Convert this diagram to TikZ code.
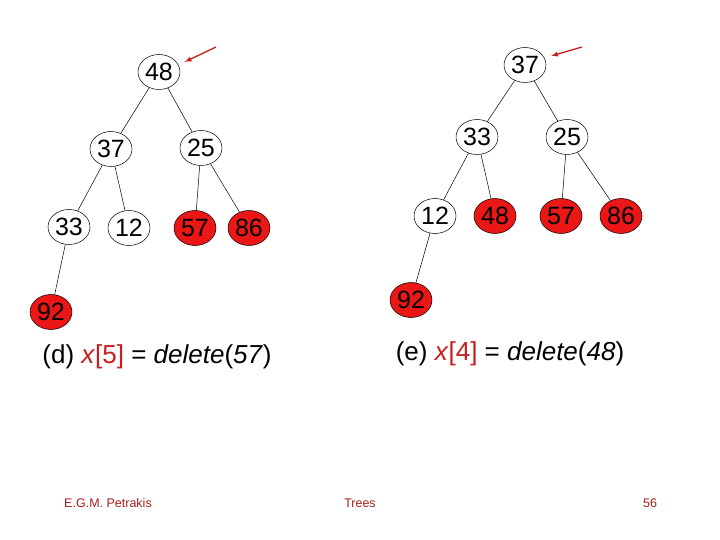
\documentclass[tikz,border=0pt]{standalone}
\usepackage{fontspec}
\setmainfont{Liberation Sans}
\usepackage{xcolor}
\usepackage{tikz}
\usetikzlibrary{shapes.geometric, arrows, positioning, calc}
\definecolor{heapred}{RGB}{235, 22, 22}
\definecolor{markred}{RGB}{200, 30, 30}
\definecolor{footred}{RGB}{170, 30, 30}

\tikzset{
    heapnode/.style={ellipse, draw=black, line width=0.5pt, fill=white,
                     minimum width=42pt, minimum height=35pt, inner sep=0pt,
                     font=\fontsize{25}{29}\selectfont},
    movednode/.style={heapnode, fill=heapred},
    heapedge/.style={draw=black, line width=0.5pt},
    pointer/.style={draw=markred, line width=1.3pt, -latex, shorten >=7pt},
    caption/.style={font=\fontsize{26}{30}\selectfont, anchor=center},
    footer/.style={font=\fontsize{12.5}{15}\selectfont, text=footred}
}

\begin{document}
\begin{tikzpicture}[x=1pt, y=-1pt]
            \useasboundingbox (0,0) rectangle (720,540);

            % (d) left tree
            \node[heapnode] (d48) at (159,72) {48};
            \node[heapnode] (d37) at (111,149) {37};
            \node[heapnode] (d25) at (201,148) {25};
            \node[heapnode] (d33) at (69,227) {33};
            \node[heapnode] (d12) at (129,228) {12};
            \node[movednode] (d57) at (195,228) {57};
            \node[movednode] (d86) at (249,228) {86};
            \node[movednode] (d92) at (51,312) {92};
            \draw[heapedge] (d48) -- (d37);
            \draw[heapedge] (d48) -- (d25);
            \draw[heapedge] (d37) -- (d33);
            \draw[heapedge] (d37) -- (d12);
            \draw[heapedge] (d25) -- (d57);
            \draw[heapedge] (d25) -- (d86);
            \draw[heapedge] (d33) -- (d92);
            \coordinate (dtail) at (216,47);
            \draw[pointer] (dtail) -- (d48.20);
            \node[caption] (dcap) at (157,357)
                {(d) \textcolor{markred}{\textit{x}[5]} = \textit{delete}(\textit{57})};

            % (e) right tree
            \node[heapnode] (e37) at (525,65) {37};
            \node[heapnode] (e33) at (477,137) {33};
            \node[heapnode] (e25) at (567,137) {25};
            \node[heapnode] (e12) at (435,216) {12};
            \node[movednode] (e48) at (495,216) {48};
            \node[movednode] (e57) at (561,216) {57};
            \node[movednode] (e86) at (621,216) {86};
            \node[movednode] (e92) at (411,300) {92};
            \draw[heapedge] (e37) -- (e33);
            \draw[heapedge] (e37) -- (e25);
            \draw[heapedge] (e33) -- (e12);
            \draw[heapedge] (e33) -- (e48);
            \draw[heapedge] (e25) -- (e57);
            \draw[heapedge] (e25) -- (e86);
            \draw[heapedge] (e12) -- (e92);
            \coordinate (etail) at (582,47);
            \draw[pointer] (etail) -- (e37.20);
            \node[caption] (ecap) at (510,354)
                {(e) \textcolor{markred}{\textit{x}[4]} = \textit{delete}(\textit{48})};

            % footer
            \node[footer] (author) at (108,503) {E.G.M. Petrakis};
            \node[footer] (topic) at (360,503) {Trees};
            \node[footer] (page) at (650,503) {56};
        \end{tikzpicture}
\end{document}
